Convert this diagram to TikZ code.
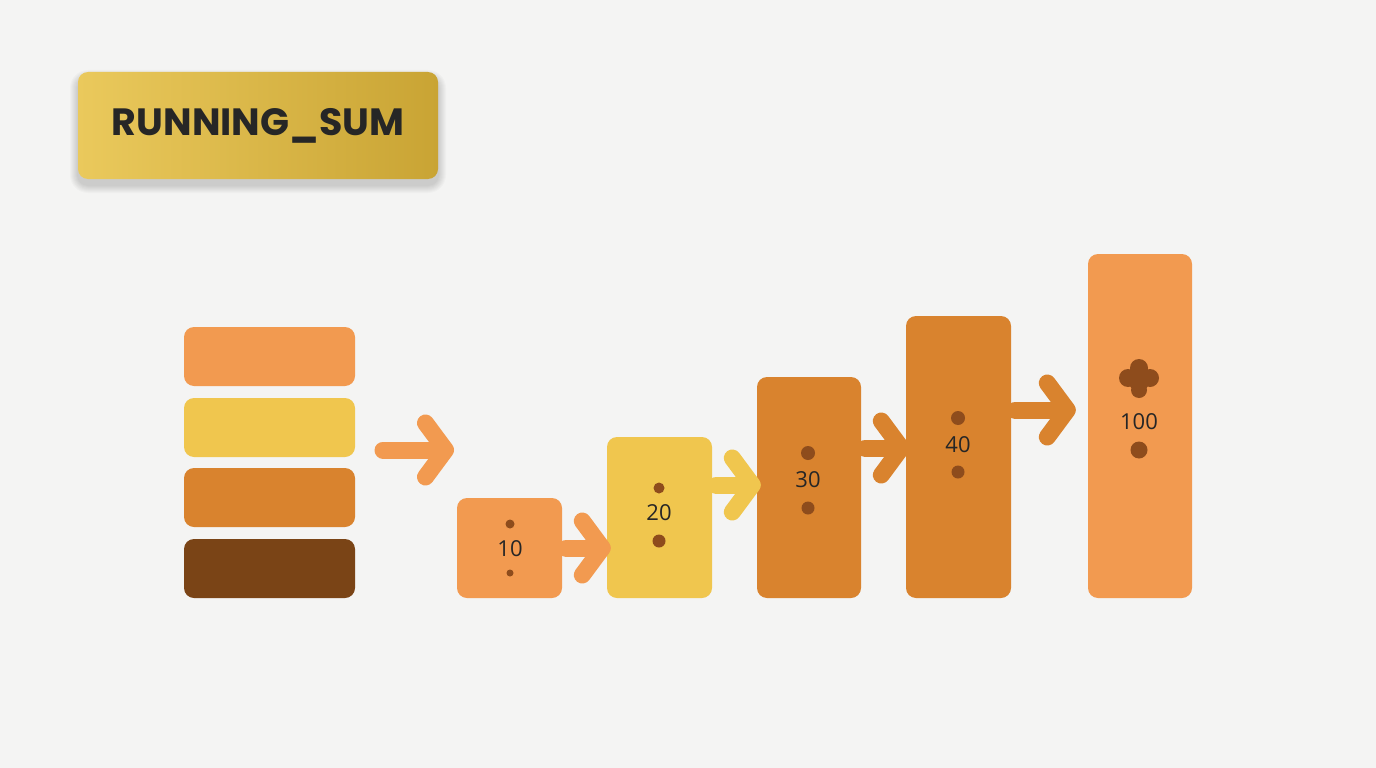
\documentclass[tikz,border=0pt]{standalone}
\usepackage{fontspec}
\setmainfont{Open Sans}
\newfontfamily\titlefont{Poppins}
\usetikzlibrary{arrows.meta}
\definecolor{bg}{HTML}{F4F4F3}
\definecolor{cor}{HTML}{F29A50}
\definecolor{cye}{HTML}{F0C64E}
\definecolor{cdk}{HTML}{D9832E}
\definecolor{cbr}{HTML}{7A4416}
\definecolor{cdot}{HTML}{8E4C1C}
\definecolor{gold1}{HTML}{EAC95C}
\definecolor{gold2}{HTML}{C9A434}
\tikzset{
 blk/.style={rounded corners=10pt,inner sep=0pt,draw=none},
 arr/.style={line width=17pt,line cap=round,-{Straight Barb[length=20pt,width=54pt,line width=17pt,round]}},
 num/.style={font=\fontsize{22}{22}\selectfont,text=black!85},
 dot/.style={circle,fill=cdot,inner sep=0pt,minimum size=11pt}
}
\begin{document}
\begin{tikzpicture}[x=1pt,y=-1pt]
\fill[bg] (0,0) rectangle (1376,768);
\useasboundingbox (0,0) rectangle (1376,768);
% soft shadow of title
\foreach \i in {1,...,8}{
  \fill[black,opacity=0.02,rounded corners={10pt+\i pt}] (78-\i,78-\i) rectangle (438+\i,185+\i);
}
\node[blk,minimum width=360pt,minimum height=107pt,left color=gold1,right color=gold2] (title) at (258,125.5) {};
\node[font=\titlefont\bfseries\fontsize{38}{38}\selectfont,text=black!85] at (title) {RUNNING\_SUM};
% stack
\node[blk,fill=cor,minimum width=171pt,minimum height=59pt] (s1) at (269.5,356.5) {};
\node[blk,fill=cye,minimum width=171pt,minimum height=59pt] (s2) at (269.5,427.5) {};
\node[blk,fill=cdk,minimum width=171pt,minimum height=59pt] (s3) at (269.5,497.5) {};
\node[blk,fill=cbr,minimum width=171pt,minimum height=59pt] (s4) at (269.5,568.5) {};
% bars
\node[blk,fill=cor,minimum width=105pt,minimum height=100pt] (b1) at (509.5,548) {};
\node[blk,fill=cye,minimum width=105pt,minimum height=161pt] (b2) at (659.5,517.5) {};
\node[blk,fill=cdk,minimum width=104pt,minimum height=221pt] (b3) at (809,487.5) {};
\node[blk,fill=cdk,minimum width=105pt,minimum height=282pt] (b4) at (958.5,457) {};
\node[blk,fill=cor,minimum width=104pt,minimum height=344pt] (b5) at (1140,426) {};
% arrows
\coordinate (a0s) at (383,450);
\coordinate (a0e) at (454,450);
\draw[arr,cor] (a0s) -- (a0e);
\draw[arr,cor] ([xshift=4pt]b1.east |- 0,548) -- ([xshift=4pt]b2.west |- 0,548);
\draw[arr,cye] ([xshift=4pt]b2.east |- 0,485) -- ([xshift=4pt]b3.west |- 0,485);
\draw[arr,cdk] ([xshift=4pt]b3.east |- 0,448) -- ([xshift=4pt]b4.west |- 0,448);
\draw[arr,cdk] ([xshift=4pt]b4.east |- 0,410) -- ([xshift=-12pt]b5.west |- 0,410);
% labels
\node[num] at (510,549) {10};
\node[dot,minimum size=9pt] at (510,524) {};
\node[dot,minimum size=7pt] at (510,573) {};
\node[num] at (659,513) {20};
\node[dot] at (659,488) {};
\node[dot,minimum size=13pt] at (659,541) {};
\node[num] at (808,480) {30};
\node[dot,minimum size=14pt] at (808,453) {};
\node[dot,minimum size=13pt] at (808,508) {};
\node[num] at (958,445) {40};
\node[dot,minimum size=14pt] at (958,418) {};
\node[dot,minimum size=13pt] at (958,472) {};
\node[num] at (1139,422) {100};
\node[dot,minimum size=17pt] at (1139,450) {};
\fill[cdot] (1139,380) circle (11pt);
\fill[cdot] (1128,378) circle (9pt) (1150,378) circle (9pt) (1139,368) circle (9pt) (1139,390) circle (8pt);
\end{tikzpicture}
\end{document}
